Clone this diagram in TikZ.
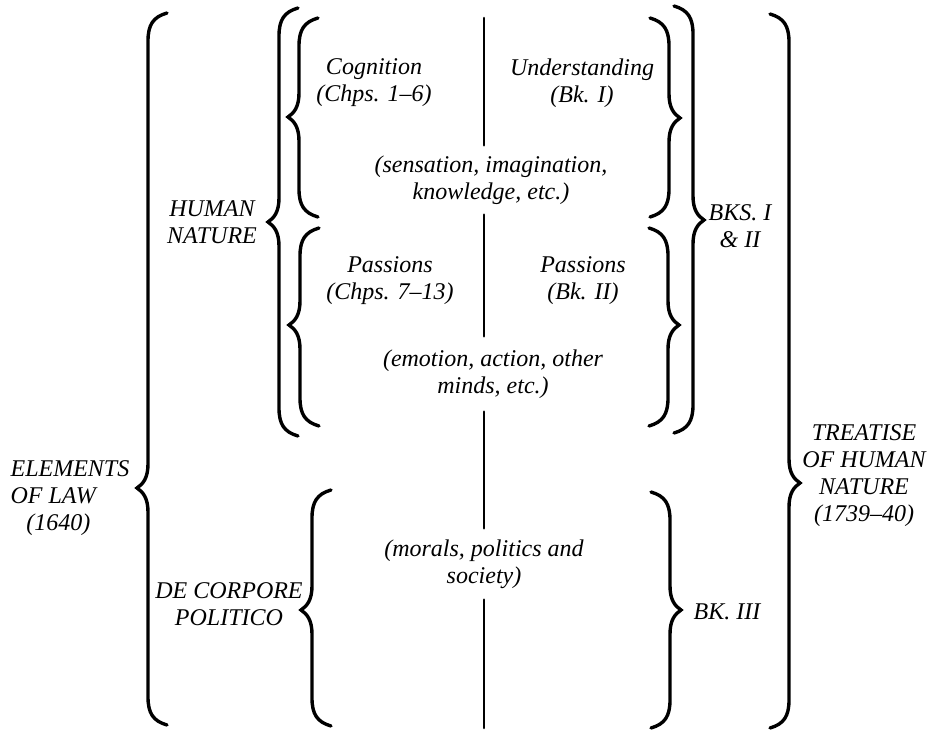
\documentclass[tikz,border=0pt]{standalone}
\usepackage{fontspec}
\setmainfont{Liberation Serif}
\usetikzlibrary{calc}
\def\curlyleft[#1](#2:#3:#4:#5){\draw[#1] (#2+19,#3) .. controls (#2+5,#3+4) and (#2,#3+12) .. (#2,#3+28) -- (#2,#4-24) .. controls (#2,#4-10) and (#2-5,#4-4) .. (#2-11,#4) .. controls (#2-5,#4+4) and (#2,#4+10) .. (#2,#4+24) -- (#2,#5-28) .. controls (#2,#5-12) and (#2+5,#5-4) .. (#2+19,#5);}
\def\curlyright[#1](#2:#3:#4:#5){\draw[#1] (#2-19,#3) .. controls (#2-5,#3+4) and (#2,#3+12) .. (#2,#3+28) -- (#2,#4-24) .. controls (#2,#4-10) and (#2+5,#4-4) .. (#2+11,#4) .. controls (#2+5,#4+4) and (#2,#4+10) .. (#2,#4+24) -- (#2,#5-28) .. controls (#2,#5-12) and (#2-5,#5-4) .. (#2-19,#5);}

\begin{document}
\begin{tikzpicture}[x=1pt,y=-1pt,line width=3.4pt,line cap=round,
	lab/.style={align=center,inner sep=3pt,font=\fontsize{24}{27}\selectfont\itshape},
	gap/.style={lab,minimum height=#1}]
	\useasboundingbox (0,0) rectangle (940,730);
	%LEFT BRACES
	\curlyleft[](148:13:488:725)
	\curlyleft[](279:8:222:436)
	\curlyleft[](299:18:117:217)
	\curlyleft[](300:228:325:426)
	\curlyleft[](312:490:610:726)
	\node[lab,align=left] (elem) at (70,498) {ELEMENTS \\ OF LAW \\ \hspace*{0.65em}(1640)};
	\node[lab] (human) at (212,222) {HUMAN \\ NATURE};
	\node[lab] (corpore) at (229,604) {DE CORPORE \\ POLITICO};

	%MIDDLE TEXTS
	\node[lab] (cogn) at (374,83) {Cognition \\ (Chps. 1--6)};
	\node[lab] (under) at (582,83) {Understanding \\ (Bk. I)};
	\node[gap=66pt] (sens) at (491,180) {(sensation, imagination, \\ knowledge, etc.)};
	\node[lab] (passl) at (390,281) {Passions \\ (Chps. 7--13)};
	\node[lab] (passr) at (583,281) {Passions \\ (Bk. II)};
	\node[gap=72pt] (emot) at (493,374) {(emotion, action, other \\ minds, etc.)};
	\node[gap=68pt] (moral) at (484,564) {(morals, politics and \\ society)};

	%CENTRE LINE
	\coordinate (ltop) at (484,18);
	\coordinate (lbot) at (484,728);
	\draw[line width=2.6pt] (ltop)--(sens.north -| ltop);
	\draw[line width=2.6pt] (sens.south -| ltop)--(emot.north -| ltop);
	\draw[line width=2.6pt] (emot.south -| ltop)--(moral.north -| ltop);
	\draw[line width=2.6pt] (moral.south -| ltop)--(lbot);

	%RIGHT BRACES
	\curlyright[](669:18:118:217)
	\curlyright[](668:228:325:426)
	\curlyright[](693:6:220:433)
	\curlyright[](670:492:610:728)
	\curlyright[](789:14:483:728)
	\node[lab] (books) at (740,226) {BKS. I \\ \& II};
	\node[lab] (bookiii) at (727,612) {BK. III};
	\node[lab] (treat) at (864,476) {TREATISE \\ OF HUMAN \\ NATURE \\ (1739--40)};
\end{tikzpicture}
\end{document}
